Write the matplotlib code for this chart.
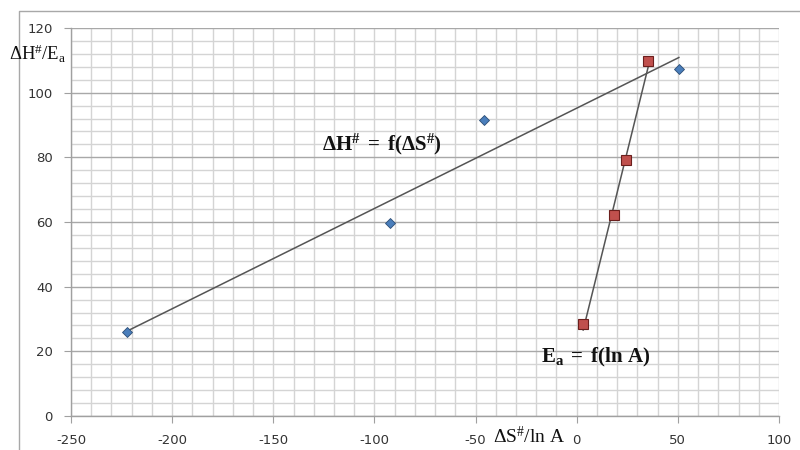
import numpy as np
import matplotlib
matplotlib.use("Agg")
import matplotlib.pyplot as plt
from matplotlib.lines import Line2D
from matplotlib.ticker import MultipleLocator

plt.rcParams['mathtext.fontset'] = 'custom'
plt.rcParams['mathtext.rm'] = 'Liberation Serif'
plt.rcParams['mathtext.it'] = 'Liberation Serif:italic'
plt.rcParams['mathtext.bf'] = 'Liberation Serif:bold'
plt.rcParams['axes.unicode_minus'] = False

# Activation parameters: ΔH# vs ΔS#, and Ea vs ln A
dS = [-222.5, -92.5, -46.0, 50.5]
dH = [26.0, 59.6, 91.7, 107.2]
lnA = [3.2, 18.4, 24.3, 35.3]
Ea = [28.4, 62.2, 79.2, 109.8]

fig = plt.figure(figsize=(8, 4.5), dpi=100)
ax = fig.add_axes([71/800, 1-416/450, (779-71)/800, (416-28)/450])

ax.set_xlim(-250, 100)
ax.set_ylim(0, 120)
ax.xaxis.set_major_locator(MultipleLocator(50))
ax.xaxis.set_minor_locator(MultipleLocator(10))
ax.yaxis.set_major_locator(MultipleLocator(20))
ax.yaxis.set_minor_locator(MultipleLocator(4))

ax.grid(which='minor', axis='both', color='#d4d4d4', lw=1.0, zorder=0)
ax.grid(which='major', axis='y', color='#a8a8a8', lw=1.0, zorder=0)
ax.grid(which='major', axis='x', color='#d4d4d4', lw=1.0, zorder=0)
ax.set_axisbelow(True)

for s in ('top', 'right'):
    ax.spines[s].set_visible(False)
for s in ('left', 'bottom'):
    ax.spines[s].set_color('#a0a0a0')
    ax.spines[s].set_linewidth(1.0)

ax.tick_params(which='major', length=5, color='#a0a0a0', labelsize=9.5,
               labelcolor='#333333', direction='out')
ax.tick_params(which='minor', length=0)
ax.tick_params(axis='y', pad=8)
ax.tick_params(axis='x', pad=8)

# linear trend lines over each data range
for xs, ys in ((dS, dH), (lnA, Ea)):
    k, b = np.polyfit(xs, ys, 1)
    xr = np.array([min(xs), max(xs)])
    ax.plot(xr, k*xr + b, color='#555555', lw=1.1, zorder=2)

ax.plot(dS, dH, ls='none', marker='D', ms=5, mfc='#4a7ebb',
        mec='#2c4d75', mew=0.6, zorder=3)
ax.plot(lnA, Ea, ls='none', marker='s', ms=7, mfc='#c0504d',
        mec='#6b1f1d', mew=0.8, zorder=3)

ax.text(-96.5, 84, r'$\mathbf{ΔH^{\#}\ =\ f(ΔS^{\#})}$', fontsize=15,
        ha='center', va='center', color='#111111')
ax.text(9.5, 18, r'$\mathbf{E_{a}\ =\ f(ln\ A)}$', fontsize=15,
        ha='center', va='center', color='#111111')

fig.text(9/800, 1-54/450, r'$\mathrm{ΔH^{\#}/E_{a}}$', fontsize=13.5,
         ha='left', va='center', color='#111111')
fig.text(529/800, 1-436/450, r'$\mathrm{ΔS^{\#}/ln\ A}$', fontsize=14,
         ha='center', va='center', color='#111111')

# outer frame lines
fig.add_artist(Line2D([19/800, 19/800, 1.0], [0.0, 1-11/450, 1-11/450],
                      transform=fig.transFigure, color='#a8a8a8', lw=1.0))

fig.savefig('out.png', dpi=100)
